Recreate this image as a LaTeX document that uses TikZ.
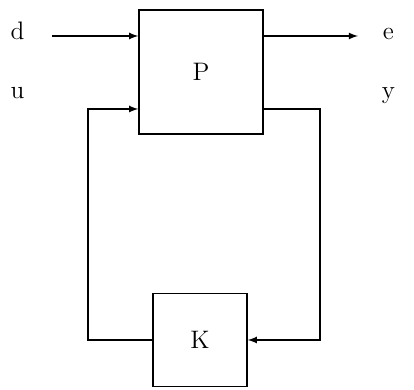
\documentclass[tikz,border=0pt]{standalone}
\usepackage{tikz}
\usetikzlibrary{positioning}
\usetikzlibrary{calc}
\usetikzlibrary{arrows}
\tikzset{
	every path/.style={thick},
	every node/.style={font=\Large},
	blk/.style={draw,thick,inner sep=0pt},
	sig/.style={inner sep=0pt},
}

\begin{document}
\begin{tikzpicture}
					\useasboundingbox (0,0) rectangle (8.28,7.8);
					
					% plant and controller blocks...................
					\node [blk, minimum width=2.48cm, minimum height=2.48cm] (P) at (4.02,6.36) {P};
					\node [blk, minimum width=1.88cm, minimum height=1.86cm] (K) at (4.0,1.0) {K};
					
					% signal labels......................
					\node [sig] (d) at (0.35,7.18) {d};
					\node [sig] (u) at (0.35,5.94) {u};
					\node [sig] (e) at (7.77,7.12) {e};
					\node [sig] (y) at (7.77,5.88) {y};
					
					% line ends and corners..............
					\coordinate (din) at (1.04,7.08);
					\coordinate (eout) at (7.16,7.08);
					\coordinate (uin) at (1.76,5.62);
					\coordinate (yout) at (6.4,5.62);
					
					% exogenous input and output.........
					\draw [-latex] (din) to (din -| P.west);
					\draw [-latex] (eout -| P.east) to (eout);
					
					% feedback loop.......................
					\draw [-latex] (K.west) -| (uin) -- (uin -| P.west);
					\draw [-latex] (yout -| P.east) -- (yout) |- (K.east);
				\end{tikzpicture}
\end{document}
